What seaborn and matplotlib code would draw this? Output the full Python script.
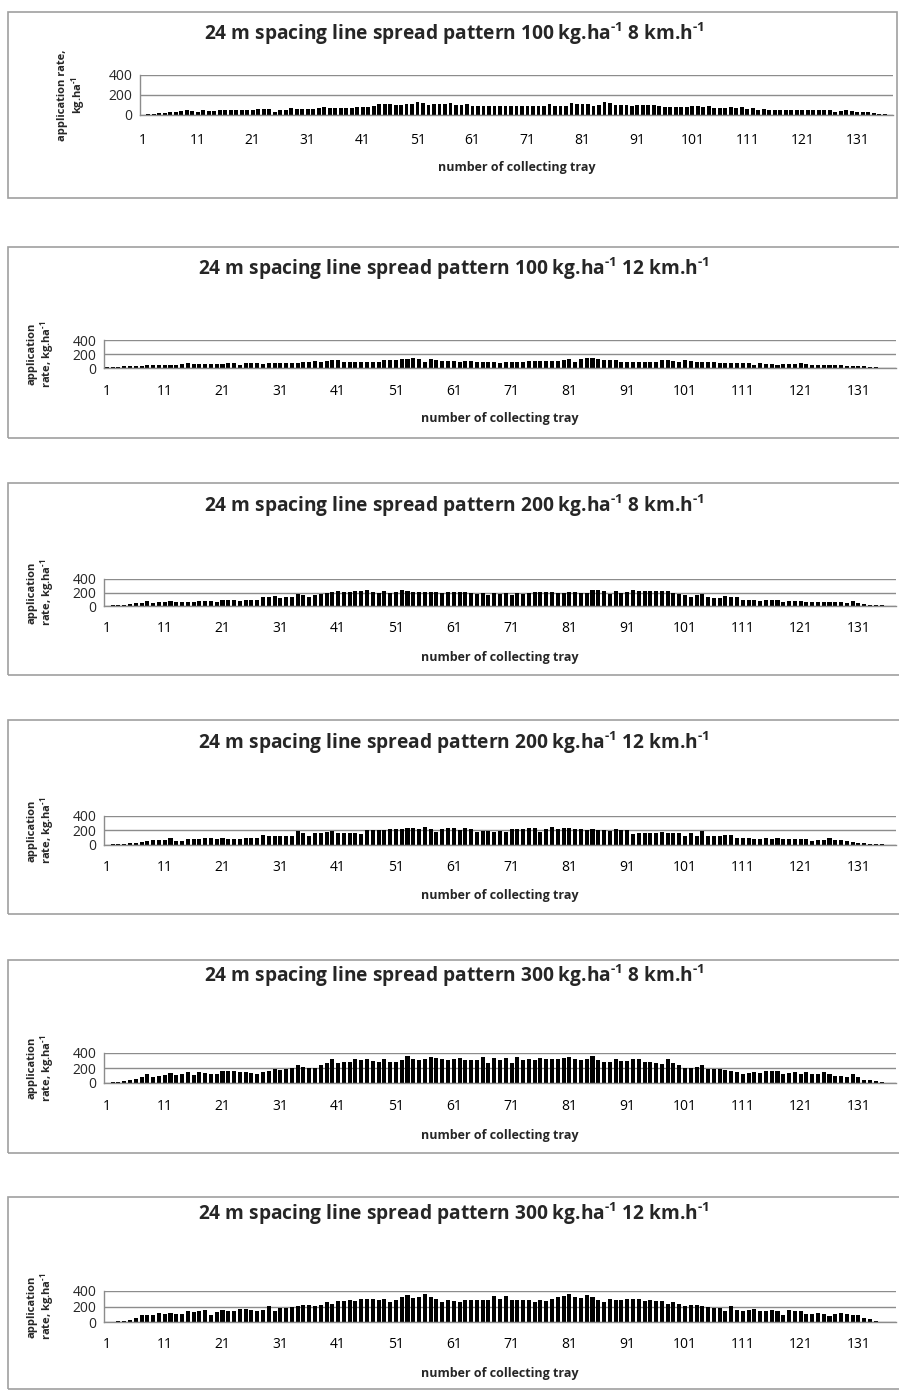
import numpy as np
import matplotlib
matplotlib.use('Agg')
import matplotlib.pyplot as plt
from matplotlib.patches import Rectangle
import seaborn as sns

# number of collecting tray
trays = list(range(1, 138))

# application rate, kg/ha, one list per test
rate_100_8 = [5, 8, 12, 16, 20, 30, 35, 40, 50, 40,
              30, 52, 45, 45, 50, 55, 55, 55, 55, 55,
              55, 60, 60, 60, 35, 50, 55, 70, 65, 65,
              60, 65, 70, 85, 75, 70, 75, 75, 75, 80,
              85, 85, 90, 110, 110, 110, 105, 100, 110, 115,
              130, 120, 100, 110, 115, 115, 125, 100, 100, 110,
              95, 95, 90, 90, 95, 90, 95, 90, 90, 90,
              93, 87, 90, 93, 107, 93, 93, 93, 120, 107,
              107, 107, 93, 100, 127, 120, 105, 105, 105, 93,
              105, 105, 105, 105, 93, 80, 80, 80, 80, 80,
              87, 93, 80, 87, 73, 73, 73, 80, 73, 80,
              60, 67, 53, 60, 53, 53, 47, 53, 53, 53,
              53, 53, 53, 53, 47, 53, 33, 40, 53, 40,
              33, 27, 27, 20, 13, 7, 3]

rate_100_12 = [8, 8, 14, 22, 27, 27, 32, 38, 38, 38,
               43, 49, 43, 54, 70, 54, 59, 59, 59, 54,
               59, 65, 70, 43, 65, 65, 65, 59, 65, 70,
               70, 76, 76, 76, 81, 92, 103, 92, 103, 119,
               108, 81, 81, 86, 86, 81, 81, 81, 114, 114,
               119, 130, 135, 141, 124, 92, 135, 119, 97, 97,
               97, 92, 97, 103, 86, 92, 86, 86, 76, 86,
               81, 86, 86, 103, 97, 97, 97, 103, 103, 108,
               135, 92, 130, 146, 141, 135, 119, 119, 114, 86,
               86, 86, 86, 92, 81, 86, 108, 119, 103, 92,
               108, 97, 86, 81, 81, 81, 76, 76, 65, 70,
               70, 70, 43, 65, 59, 59, 49, 59, 59, 54,
               70, 54, 49, 38, 49, 43, 43, 38, 27, 27,
               27, 22, 16, 11, 5, 3, 2]

rate_200_8 = [6, 11, 20, 20, 26, 40, 51, 77, 46, 57,
              66, 69, 57, 57, 63, 63, 77, 77, 71, 66,
              94, 89, 89, 77, 94, 89, 89, 129, 137, 149,
              120, 126, 129, 180, 160, 137, 157, 174, 194, 214,
              223, 214, 214, 220, 226, 237, 206, 189, 229, 191,
              214, 237, 229, 203, 203, 203, 203, 203, 191, 209,
              203, 211, 203, 191, 180, 194, 166, 197, 179, 200,
              165, 194, 174, 191, 203, 212, 203, 212, 191, 200,
              203, 203, 200, 200, 232, 241, 215, 185, 226, 194,
              209, 241, 229, 229, 215, 215, 226, 221, 191, 176,
              156, 135, 162, 185, 126, 121, 115, 144, 135, 129,
              85, 85, 91, 74, 85, 85, 91, 62, 68, 68,
              74, 62, 62, 56, 62, 62, 59, 56, 44, 74,
              47, 29, 21, 18, 15, 6, 2]

rate_200_12 = [5, 7, 9, 14, 26, 32, 38, 55, 72, 67,
               67, 90, 49, 61, 78, 78, 78, 90, 96, 78,
               90, 84, 84, 84, 96, 101, 101, 142, 130, 130,
               130, 130, 130, 194, 159, 130, 159, 165, 177, 188,
               171, 171, 171, 171, 154, 200, 212, 212, 212, 217,
               223, 223, 235, 229, 223, 252, 217, 177, 223, 241,
               241, 212, 229, 217, 177, 194, 194, 183, 194, 177,
               217, 223, 217, 241, 241, 177, 217, 246, 223, 235,
               241, 217, 223, 212, 223, 212, 206, 194, 223, 212,
               200, 154, 171, 171, 165, 171, 183, 171, 159, 159,
               130, 159, 130, 194, 130, 130, 130, 136, 136, 101,
               101, 96, 84, 84, 90, 78, 96, 84, 78, 78,
               84, 78, 61, 72, 67, 96, 67, 72, 55, 38,
               32, 26, 20, 14, 9, 5, 3]

rate_300_8 = [5, 8, 12, 23, 40, 51, 80, 126, 86, 91,
              103, 131, 103, 120, 143, 106, 149, 131, 126, 126,
              160, 160, 160, 143, 143, 131, 126, 149, 166, 183,
              177, 183, 194, 240, 217, 194, 200, 234, 269, 314,
              263, 280, 286, 320, 309, 314, 291, 274, 326, 286,
              286, 303, 360, 326, 309, 320, 349, 331, 326, 309,
              320, 331, 303, 309, 309, 343, 269, 331, 303, 331,
              269, 343, 309, 314, 303, 331, 320, 320, 326, 337,
              349, 314, 303, 326, 360, 303, 286, 274, 326, 291,
              297, 314, 314, 286, 286, 269, 257, 314, 269, 240,
              200, 194, 211, 240, 189, 183, 183, 171, 160, 149,
              126, 137, 143, 137, 160, 160, 160, 126, 131, 149,
              114, 149, 126, 114, 143, 114, 97, 91, 86, 126,
              80, 46, 34, 23, 11, 6, 6]

rate_300_12 = [3, 3, 8, 14, 25, 48, 87, 87, 93, 115,
               99, 110, 104, 104, 144, 132, 144, 161, 87, 132,
               149, 138, 144, 166, 172, 161, 144, 149, 206, 138,
               183, 183, 194, 211, 223, 217, 206, 223, 262, 234,
               273, 273, 285, 273, 301, 296, 296, 290, 301, 262,
               290, 318, 346, 313, 318, 358, 318, 296, 262, 290,
               273, 262, 290, 290, 290, 290, 290, 330, 296, 330,
               290, 290, 290, 290, 262, 279, 268, 296, 318, 335,
               358, 318, 313, 346, 318, 290, 262, 296, 285, 290,
               296, 296, 301, 273, 279, 273, 273, 234, 262, 228,
               206, 223, 217, 211, 194, 183, 183, 138, 206, 149,
               144, 161, 166, 138, 138, 149, 138, 87, 161, 138,
               144, 104, 104, 115, 99, 82, 104, 121, 104, 87,
               87, 48, 37, 14, 5, 3, 3]

sup = '$^{\\text{-1}}$'
titles = ['24 m spacing line spread pattern 100 kg.ha' + sup + ' 8 km.h' + sup,
          '24 m spacing line spread pattern 100 kg.ha' + sup + ' 12 km.h' + sup,
          '24 m spacing line spread pattern 200 kg.ha' + sup + ' 8 km.h' + sup,
          '24 m spacing line spread pattern 200 kg.ha' + sup + ' 12 km.h' + sup,
          '24 m spacing line spread pattern 300 kg.ha' + sup + ' 8 km.h' + sup,
          '24 m spacing line spread pattern 300 kg.ha' + sup + ' 12 km.h' + sup]
series = [rate_100_8, rate_100_12, rate_200_8, rate_200_12, rate_300_8, rate_300_12]
ylab_1 = 'application rate,\nkg.ha' + sup
ylab_n = 'application\nrate, kg.ha' + sup

sns.set_theme(style='white')
plt.rcParams['font.family'] = ['Open Sans', 'DejaVu Sans']
plt.rcParams['mathtext.fontset'] = 'custom'
plt.rcParams['mathtext.rm'] = 'Open Sans:bold'
plt.rcParams['mathtext.bf'] = 'Open Sans:bold'

W, H = 899, 1391
fig = plt.figure(figsize=(W / 100, H / 100), dpi=100)
fig.patch.set_facecolor('white')

grey = '#8c8c8c'

# pixel layout: box, plot area (left, top, right, bottom), title y, x label y, tick gap
layout = [
    dict(box=(8, 12, 897, 198), area=(140, 75, 893, 115), ty=34, xy=167, gap=25, yx=72),
    dict(box=(8, 247, 905, 438), area=(104, 340, 896, 368), ty=269, xy=418, gap=23, yx=41),
    dict(box=(8, 483, 905, 675), area=(104, 579, 896, 606), ty=506, xy=657, gap=22, yx=41),
    dict(box=(8, 720, 905, 914), area=(104, 816, 896, 845), ty=743, xy=896, gap=22, yx=41),
    dict(box=(8, 960, 905, 1153), area=(104, 1053, 896, 1083), ty=976, xy=1135, gap=23, yx=41),
    dict(box=(8, 1197, 905, 1389), area=(104, 1291, 896, 1322), ty=1214, xy=1373, gap=22, yx=41),
]

for i, (vals, title, lay) in enumerate(zip(series, titles, layout)):
    bx0, by0, bx1, by1 = lay['box']
    fig.patches.append(Rectangle((bx0 / W, 1 - by1 / H), (bx1 - bx0) / W, (by1 - by0) / H,
                                 transform=fig.transFigure, fill=False,
                                 edgecolor='#a0a0a0', lw=1.2))
    l, t, r, b = lay['area']
    ax = fig.add_axes([l / W, 1 - b / H, (r - l) / W, (b - t) / H])
    sns.barplot(x=trays, y=vals, color='black', width=0.7, errorbar=None,
                saturation=1, linewidth=0, ax=ax)
    ax.set_xlim(-0.5, len(trays) - 0.5)
    ax.set_ylim(0, 400)
    ax.set_yticks([0, 200, 400])
    ax.set_xticks(range(0, len(trays), 10))
    ax.set_xticklabels([str(t) for t in trays[::10]])
    ax.set_xticks(np.arange(-0.5, len(trays), 5), minor=True)
    ax.tick_params(axis='x', which='major', length=0, labelsize=10,
                   pad=(lay['gap'] - 7) * 0.72, colors='black')
    ax.tick_params(axis='x', which='minor', length=3.5, width=1, color=grey, direction='out')
    ax.tick_params(axis='y', which='major', length=3.5, width=1, color=grey,
                   direction='out', labelsize=10, pad=2)
    ax.yaxis.grid(True, color=grey, lw=1)
    ax.set_axisbelow(True)
    for s in ['top', 'right']:
        ax.spines[s].set_visible(False)
    for s in ['left', 'bottom']:
        ax.spines[s].set_color(grey)
        ax.spines[s].set_linewidth(1)
    ax.set_xlabel('')
    ax.set_ylabel('')

    fig.text(454 / W, 1 - lay['ty'] / H, title, ha='center', va='center',
             fontsize=13.8, fontweight='bold')
    fig.text((l + r) / 2 / W, 1 - lay['xy'] / H, 'number of collecting tray',
             ha='center', va='center', fontsize=9, fontweight='bold')
    fig.text(lay['yx'] / W, 1 - (t + b) / 2 / H, ylab_1 if i == 0 else ylab_n,
             ha='center', va='center', rotation=90, fontsize=8,
             fontweight='bold', linespacing=1.1, multialignment='center')

fig.savefig('out.png', dpi=100)
